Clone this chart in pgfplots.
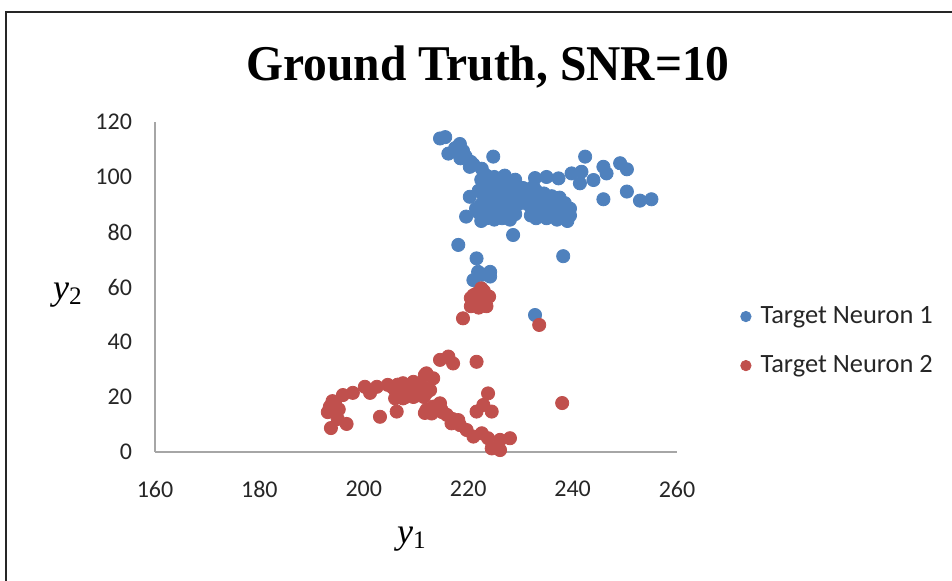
\documentclass[border=0pt]{standalone}
\usepackage{fontspec}
\setmainfont{Liberation Serif}
\newfontfamily\calibri{Carlito}
\usepackage{pgfplots}
\pgfplotsset{compat=1.18}
\definecolor{ublue}{HTML}{4F81BD}
\definecolor{ured}{HTML}{C0504D}
\definecolor{axgray}{HTML}{A6A6A6}
\begin{document}
\begin{tikzpicture}
\useasboundingbox (0,0) rectangle (476pt,290.5pt);
\draw[line width=1.3pt, black!85] (3pt,0) -- (3pt,284.5pt) -- (476pt,284.5pt);
\node[font=\fontsize{25}{28}\selectfont\bfseries] at (244pt,257pt) {\scalebox{0.95}[1]{Ground Truth, SNR=10}};
\node[font=\fontsize{18}{20}\selectfont] at (34pt,143pt) {\textit{y}\textsubscript{2}};
\node[font=\fontsize{18}{20}\selectfont] at (206pt,21pt) {\textit{y}\textsubscript{1}};
\begin{axis}[
  at={(77.5pt,64.5pt)}, anchor=south west,
  scale only axis, width=261pt, height=165pt,
  xmin=160, xmax=260, ymin=0, ymax=120,
  xtick={160,180,...,260}, ytick={0,20,...,120},
  axis x line=bottom, axis y line=left,
  axis line style={draw=axgray, line width=0.8pt, -},
  major tick length=0pt,
  /pgf/number format/assume math mode=true,
  tick label style={font=\calibri\fontsize{12}{14}\selectfont, text=black!85},
  xticklabel style={yshift=-11pt},
  yticklabel style={xshift=-8pt},
  clip=false,
  legend style={at={(1.109,0.336)}, anchor=west, draw=none, fill=none,
    font=\calibri\fontsize{13.2}{15}\selectfont, text=black!85, row sep=10.5pt},
  legend cell align=left,
  legend image code/.code={\fill[#1] (0.12cm,0cm) circle (2.6pt); \node[inner sep=0pt, minimum size=0pt, draw=none, fill=none] at (0.12cm+5.1pt,0pt) {};},
]
\addplot[only marks, mark=*, mark size=3.3pt, color=ublue] coordinates {
(222.5,99)(223.5,97)(224.5,98.5)(225.5,97.5)(226.5,98)(227.5,98.5)(228.5,97.5)(229.5,96.5)(230.5,96)(231.5,95.5)(232.5,96.5)(233,95)
(222,95)(223,93)(224,95)(225,94)(226,95.5)(227,94)(228,95)(229,93.5)(230,94)(231,93)
(222.5,90)(223.5,91)(224.5,89.5)(225.5,91)(226.5,92)(227.5,90.5)(228.5,91.5)(229.5,90)
(222,87)(223,86)(224,88)(225,86.5)(226,88.5)(227,87)(228,88)(229,86.5)
(222.5,84)(223.5,85)(225,84.5)(226.5,85)(228,84.5)(221.5,88.5)(224,92.5)(226,89.5)(227.5,93)(225,100)(227,100.5)(229,99)(223.5,100.5)
(231.5,90)(232.5,88)(233.5,91)(234.5,89)(235.5,91.5)(236.5,88.5)(237.5,90)(238.5,87.5)(239.5,86)
(232,86)(233,85)(234,86.5)(235,85)(236,86)(237,84.5)(238,85.5)(239,84)(239.5,88.5)
(233,93.5)(234.5,94)(236,93)(237.5,92.5)(238.5,90.5)(235,87.5)(233.5,88.5)(236.5,90.5)
(214.6,114)(215.6,114.5)(216.2,108.5)(217.5,110.5)(218.4,112)(219,109.5)(218.5,106.8)(219.5,107.5)(220.5,105.5)(220.3,103.7)(221,104.5)(222.6,103)(224.8,107.4)(222.9,98.3)(220.3,92.8)(219.6,85.6)(218.1,75.3)(228.6,78.9)
(235,100)(237.3,99.5)(239.8,101.3)(241.7,101.9)(241.4,97.7)(242.4,107.4)(244,98.9)(245.9,103.7)(246.5,101.3)(249.1,105)(250.4,102.8)(250.4,94.7)(245.9,91.9)(252.9,91.4)(255.1,91.9)(232.8,99.6)
(221.6,70.4)(221.9,65.5)(222.8,64.5)(224.2,65.5)(224.2,63.8)(221,62.5)(222.5,59.5)(238.2,71.2)(232.8,49.8)
};
\addlegendentry{Target Neuron 1}
\addplot[only marks, mark=*, mark size=3.3pt, color=ured] coordinates {
(220.5,53)(221,55.5)(221.5,57.5)(222,54)(222.5,56)(223,58.5)(223.5,53)(222,52.5)(221,57)(223,55)(224,56.5)(222.5,59.5)(220.5,56)(219,48.6)(233.6,46.2)
(214.6,33.5)(216.2,34.7)(217.1,32.2)(221.6,32.8)(212,28.6)(213.3,26.8)
(206.5,24.5)(207.5,25)(208.5,24)(209.5,25.5)(210.5,24.5)(211.5,23.5)(206,22.5)(207,21.5)(208,23)(209,22)(210,23)(211,22)(212,21.5)(206.5,20)(207.5,19.5)(208.5,21)(209.5,20)(210.5,21)(211.5,20)(207,23.5)(209,23.8)(210,20.5)(208,20)(206,19.5)(212.7,22.5)(211.4,21.9)(205.5,23.5)
(193.5,16.5)(193.1,14.5)(194.5,17.5)(195.2,15.5)(194,18.5)(193.7,8.7)(196.7,10.2)(195,12)(194.5,15)(196,20.7)(197.9,21.5)(200.2,23.7)(202.5,23.7)(201.2,21.5)(204.6,24.4)(203.1,12.8)(206.3,14.7)(211.7,14.2)(211.7,28)
(212,15.3)(213.3,16.5)(214.6,17.7)(214.9,15.3)(215.9,13.5)(216.8,10.4)(218.1,11.6)(218.4,9.8)(219.7,8)(221,5.6)(222.6,6.8)(223.8,21.3)(221.6,14.7)(222.9,17.1)(224.5,14.7)(223.8,5)(224.5,1.3)(226.1,0.7)(226.1,4.4)(228,5)(238,17.8)(213,14)(215,14.5)(217,12)
};
\addlegendentry{Target Neuron 2}
\end{axis}
\end{tikzpicture}
\end{document}
